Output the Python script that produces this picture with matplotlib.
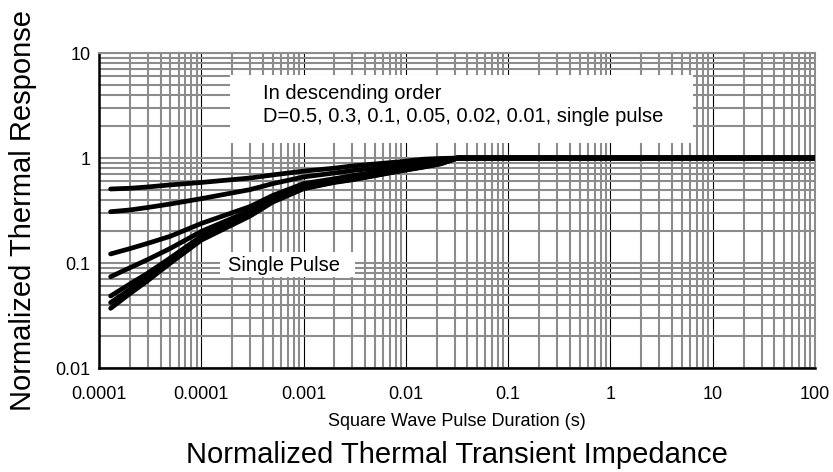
import numpy as np
import matplotlib.pyplot as plt
from matplotlib.ticker import LogLocator, FixedLocator, FixedFormatter, NullFormatter

plt.rcParams['font.family'] = ['Liberation Sans', 'DejaVu Sans']

# Pulse duration (s) at which the curves were read
pulse_t = [1.3e-5, 2e-5, 3e-5, 5e-5, 1e-4, 3e-4, 5e-4, 1e-3, 2e-3, 3e-3,
           8.7e-3, 1.5e-2, 2.2e-2, 3.2e-2, 100]

# Normalized response per duty cycle, in descending order
d_050 = [0.507, 0.515, 0.53, 0.555, 0.585, 0.645, 0.69, 0.75, 0.80, 0.84,
         0.92, 0.975, 0.99, 1.0, 1.0]
d_030 = [0.308, 0.32, 0.338, 0.365, 0.41, 0.5, 0.57, 0.66, 0.72, 0.76,
         0.845, 0.9, 0.95, 1.0, 1.0]
d_010 = [0.122, 0.137, 0.154, 0.18, 0.238, 0.345, 0.44, 0.57, 0.635, 0.68,
         0.79, 0.86, 0.915, 1.0, 1.0]
d_005 = [0.074, 0.09, 0.108, 0.138, 0.2, 0.315, 0.41, 0.545, 0.61, 0.645,
         0.77, 0.84, 0.90, 1.0, 1.0]
d_002 = [0.0485, 0.063, 0.08, 0.112, 0.18, 0.295, 0.393, 0.525, 0.595, 0.63,
         0.76, 0.83, 0.89, 1.0, 1.0]
d_001 = [0.042, 0.056, 0.073, 0.105, 0.172, 0.287, 0.387, 0.515, 0.59, 0.625,
         0.755, 0.825, 0.885, 1.0, 1.0]
single = [0.037, 0.051, 0.068, 0.1, 0.165, 0.28, 0.38, 0.51, 0.585, 0.62,
          0.75, 0.82, 0.88, 1.0, 1.0]
curves = [d_050, d_030, d_010, d_005, d_002, d_001, single]

# Axis ticks (the first x label is printed as in the original)
x_ticks = [1e-5, 1e-4, 1e-3, 1e-2, 1e-1, 1, 10, 100]
x_labels = ['0.0001', '0.0001', '0.001', '0.01', '0.1', '1', '10', '100']
y_ticks = [0.01, 0.1, 1, 10]
y_labels = ['0.01', '0.1', '1', '10']

fig = plt.figure(figsize=(8.33, 4.72), dpi=100)
ax = fig.add_axes([0.1188, 0.2203, 0.8596, 0.6674])

grid_gray = '#8c8c8c'

for c in curves:
    ax.plot(pulse_t, c, color='black', lw=3.4, solid_capstyle='round',
            solid_joinstyle='round', zorder=5)

ax.set_xscale('log')
ax.set_yscale('log')
ax.set_xlim(1e-5, 100)
ax.set_ylim(0.01, 10)

ax.xaxis.set_major_locator(FixedLocator(x_ticks))
ax.xaxis.set_major_formatter(FixedFormatter(x_labels))
ax.yaxis.set_major_locator(FixedLocator(y_ticks))
ax.yaxis.set_major_formatter(FixedFormatter(y_labels))
ax.xaxis.set_minor_locator(LogLocator(base=10, subs=np.arange(2, 10), numticks=50))
ax.yaxis.set_minor_locator(LogLocator(base=10, subs=np.arange(2, 10), numticks=50))
ax.xaxis.set_minor_formatter(NullFormatter())
ax.yaxis.set_minor_formatter(NullFormatter())

ax.grid(which='minor', axis='both', color=grid_gray, lw=1.5, zorder=1)
ax.grid(which='major', axis='y', color=grid_gray, lw=1.5, zorder=1)
ax.grid(which='major', axis='x', color='black', lw=0.8, zorder=1)
ax.set_axisbelow(True)

ax.tick_params(which='both', length=0)
ax.tick_params(axis='x', labelsize=13, pad=13)
ax.tick_params(axis='y', labelsize=13, pad=6)

for side in ['top', 'right']:
    ax.spines[side].set_color(grid_gray)
    ax.spines[side].set_linewidth(1.5)
for side in ['left', 'bottom']:
    ax.spines[side].set_color('black')
    ax.spines[side].set_linewidth(1.8)

ax.set_xlabel('Square Wave Pulse Duration (s)', fontsize=13, labelpad=7)

# white label boxes
ax.add_patch(plt.Rectangle((0.183, 0.714), 0.647, 0.216, transform=ax.transAxes,
                           facecolor='white', edgecolor='none', zorder=3))
ax.text(0.229, 0.873, 'In descending order', transform=ax.transAxes,
        fontsize=14.5, va='center', ha='left', zorder=4)
ax.text(0.229, 0.800, 'D=0.5, 0.3, 0.1, 0.05, 0.02, 0.01, single pulse',
        transform=ax.transAxes, fontsize=14.5, va='center', ha='left', zorder=4)

ax.add_patch(plt.Rectangle((0.169, 0.289), 0.189, 0.079, transform=ax.transAxes,
                           facecolor='white', edgecolor='none', zorder=3))
ax.text(0.18, 0.327, 'Single Pulse', transform=ax.transAxes,
        fontsize=14.5, va='center', ha='left', zorder=4)

fig.text(0.5486, 0.019, 'Normalized Thermal Transient Impedance', fontsize=21,
         ha='center', va='baseline')
fig.text(0.028, 0.555, 'Normalized Thermal Response', fontsize=21,
         ha='center', va='center', rotation=90)

fig.savefig('out.png', dpi=100)
